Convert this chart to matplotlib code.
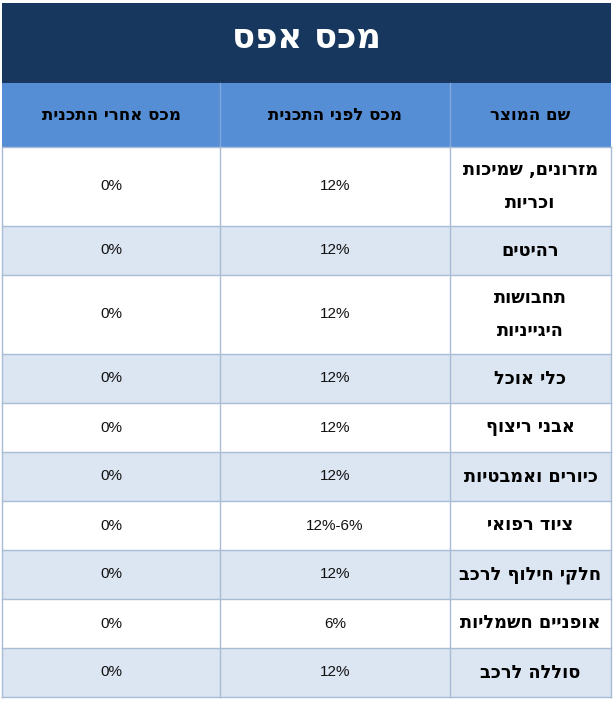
import matplotlib
matplotlib.use("Agg")
import matplotlib.pyplot as plt
from matplotlib.patches import Rectangle

# נתוני הטבלה
title = "מכס אפס"
headers = ["שם המוצר", "מכס לפני התכנית", "מכס אחרי התכנית"]
products = [
    "מזרונים, שמיכות\nוכריות",
    "רהיטים",
    "תחבושות\nהיגייניות",
    "כלי אוכל",
    "אבני ריצוף",
    "כיורים ואמבטיות",
    "ציוד רפואי",
    "חלקי חילוף לרכב",
    "אופניים חשמליות",
    "סוללה לרכב",
]
tax_before = ["12%", "12%", "12%", "12%", "12%", "12%", "12%-6%", "12%", "6%", "12%"]
tax_after = ["0%", "0%", "0%", "0%", "0%", "0%", "0%", "0%", "0%", "0%"]


def rtl(s):
    # matplotlib draws left to right, so flip hebrew lines by hand
    return "\n".join(line[::-1] for line in s.split("\n"))


W, H = 613, 701
fig = plt.figure(figsize=(W / 100, H / 100), dpi=100)
ax = fig.add_axes([0, 0, 1, 1])
ax.set_xlim(0, W)
ax.set_ylim(H, 0)
ax.axis("off")

left, right = 2, 611
col_edges = [right, 450, 220, left]  # columns go right to left
title_top, title_h = 3, 80
head_h = 64
row_h1, row_h2 = 49, 79

navy = "#17375e"
blue = "#558ed5"
light = "#dce6f2"
grid = "#a9bcd6"
hfont = ["DejaVu Sans"]
nfont = ["Liberation Sans", "DejaVu Sans"]

# title band
ax.add_patch(Rectangle((left, title_top), right - left, title_h, color=navy, lw=0))
ax.text((left + right) / 2, title_top + title_h / 2 - 5, rtl(title), color="white",
        fontsize=24.5, fontweight="bold", family=hfont, ha="center", va="center")

# header row
y = title_top + title_h
ax.add_patch(Rectangle((left, y), right - left, head_h, color=blue, lw=0))
for i, h in enumerate(headers):
    cx = (col_edges[i] + col_edges[i + 1]) / 2
    ax.text(cx, y + head_h / 2, rtl(h), fontsize=12, fontweight="bold", family=hfont,
            ha="center", va="center", color="black")
for xe in col_edges[1:-1]:
    ax.plot([xe, xe], [y, y + head_h], color="#7fa7dc", lw=1)
y += head_h

# body rows
for r, name in enumerate(products):
    nl = name.count("\n") + 1
    rh = row_h1 if nl == 1 else row_h2
    fc = "white" if r % 2 == 0 else light
    ax.add_patch(Rectangle((left, y), right - left, rh, facecolor=fc, edgecolor="none"))
    vals = [name, tax_before[r], tax_after[r]]
    for i, v in enumerate(vals):
        cx = (col_edges[i] + col_edges[i + 1]) / 2
        if i == 0:
            ax.text(cx, y + rh / 2, rtl(v), fontsize=12.8, fontweight="bold", family=hfont,
                    ha="center", va="center", linespacing=2.05, color="black")
        else:
            ax.text(cx, y + rh / 2, v, fontsize=11, family=nfont,
                    ha="center", va="center", color="#111111")
    ax.plot([left, right], [y, y], color=grid, lw=1)
    y += rh
ax.plot([left, right], [y, y], color=grid, lw=1)

body_top = title_top + title_h + head_h
for xe in col_edges:
    ax.plot([xe, xe], [body_top, y], color=grid, lw=1)

fig.savefig("out.png", dpi=100)
